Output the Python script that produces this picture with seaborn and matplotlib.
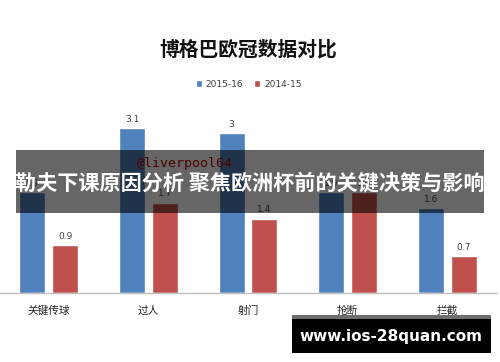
import pandas as pd
import matplotlib
matplotlib.use("Agg")
import matplotlib.pyplot as plt
from matplotlib.patches import Rectangle
import seaborn as sns

# chart data
categories = ["关键传球", "过人", "射门", "抢断", "拦截"]
season_new = "2015-16"
season_old = "2014-15"
values_new = [1.9, 3.1, 3, 1.9, 1.6]
values_old = [0.9, 1.7, 1.4, 1.9, 0.7]

title = "博格巴欧冠数据对比"
banner = "勒夫下课原因分析 聚焦欧洲杯前的关键决策与影响"
watermark = "@liverpool64"
site = "www.ios-28quan.com"

df = pd.DataFrame({
    "cat": categories * 2,
    "val": values_new + values_old,
    "season": [season_new] * len(categories) + [season_old] * len(categories),
})

sns.set_style("white")
plt.rcParams["font.family"] = ["Noto Sans CJK SC", "DejaVu Sans"]

W, H = 500, 362
fig = plt.figure(figsize=(5, 3.62), dpi=100)
fig.patch.set_facecolor("white")
ax = fig.add_axes([0, (H - 293) / H, 497 / W, 3.6 * 53.2 / H])

sns.barplot(data=df, x="cat", y="val", hue="season",
            palette=["#4f81bd", "#c0504d"], width=0.66, gap=0.21,
            saturation=1, ax=ax)

ax.set_ylim(0, 3.6)
ax.set_xlim(-0.49, 4.5)
ax.set_xlabel("")
ax.set_ylabel("")
ax.set_yticks([])
for s in ["top", "right", "left"]:
    ax.spines[s].set_visible(False)
ax.spines["bottom"].set_color("#bfbfbf")
ax.spines["bottom"].set_linewidth(1)
ax.tick_params(axis="x", length=0, pad=9, labelsize=7.7, labelcolor="#222222")

for cont in ax.containers:
    ax.bar_label(cont, fmt="%g", padding=3, fontsize=6.5, color="#404040",
                 family="DejaVu Sans")

sns.move_legend(ax, "center", bbox_to_anchor=(0.5, 1.09), ncol=2,
                frameon=False, title=None, fontsize=6.5,
                handlelength=0.7, handleheight=0.7, handletextpad=0.4,
                columnspacing=1.2)
for t in ax.get_legend().get_texts():
    t.set_color("#404040")
    t.set_family("DejaVu Sans")

fig.text(0.496, 1 - 50 / H, title, ha="center", va="center",
         fontsize=14.2, fontweight="bold", color="#111111")

# watermark, sits behind the banner
fig.text(185 / W, 1 - 164 / H, watermark, ha="center", va="center",
         fontsize=9.5, family="DejaVu Sans Mono", color="#c00000", zorder=0.5)

# dark banner across the chart
fig.patches.append(Rectangle((16 / W, 1 - 213 / H), 468 / W, 63 / H,
                             transform=fig.transFigure, facecolor="black",
                             alpha=0.6, edgecolor="none", zorder=1))
fig.text(0.5, 1 - 183 / H, banner, ha="center", va="center",
         fontsize=15.2, fontweight="bold", color="white", zorder=3)

# site badge bottom right
fig.patches.append(Rectangle((292 / W, 1 - 319 / H), 199 / W, 4 / H,
                             transform=fig.transFigure, facecolor="#6e6e6e",
                             edgecolor="none", zorder=1))
fig.patches.append(Rectangle((292 / W, 1 - 353 / H), 199 / W, 34 / H,
                             transform=fig.transFigure, facecolor="black",
                             edgecolor="none", zorder=1))
fig.text(391 / W, 1 - 336 / H, site, ha="center", va="center",
         fontsize=11, fontweight="bold", family="DejaVu Sans",
         color="white", zorder=3)

fig.savefig("out.png", dpi=100)
